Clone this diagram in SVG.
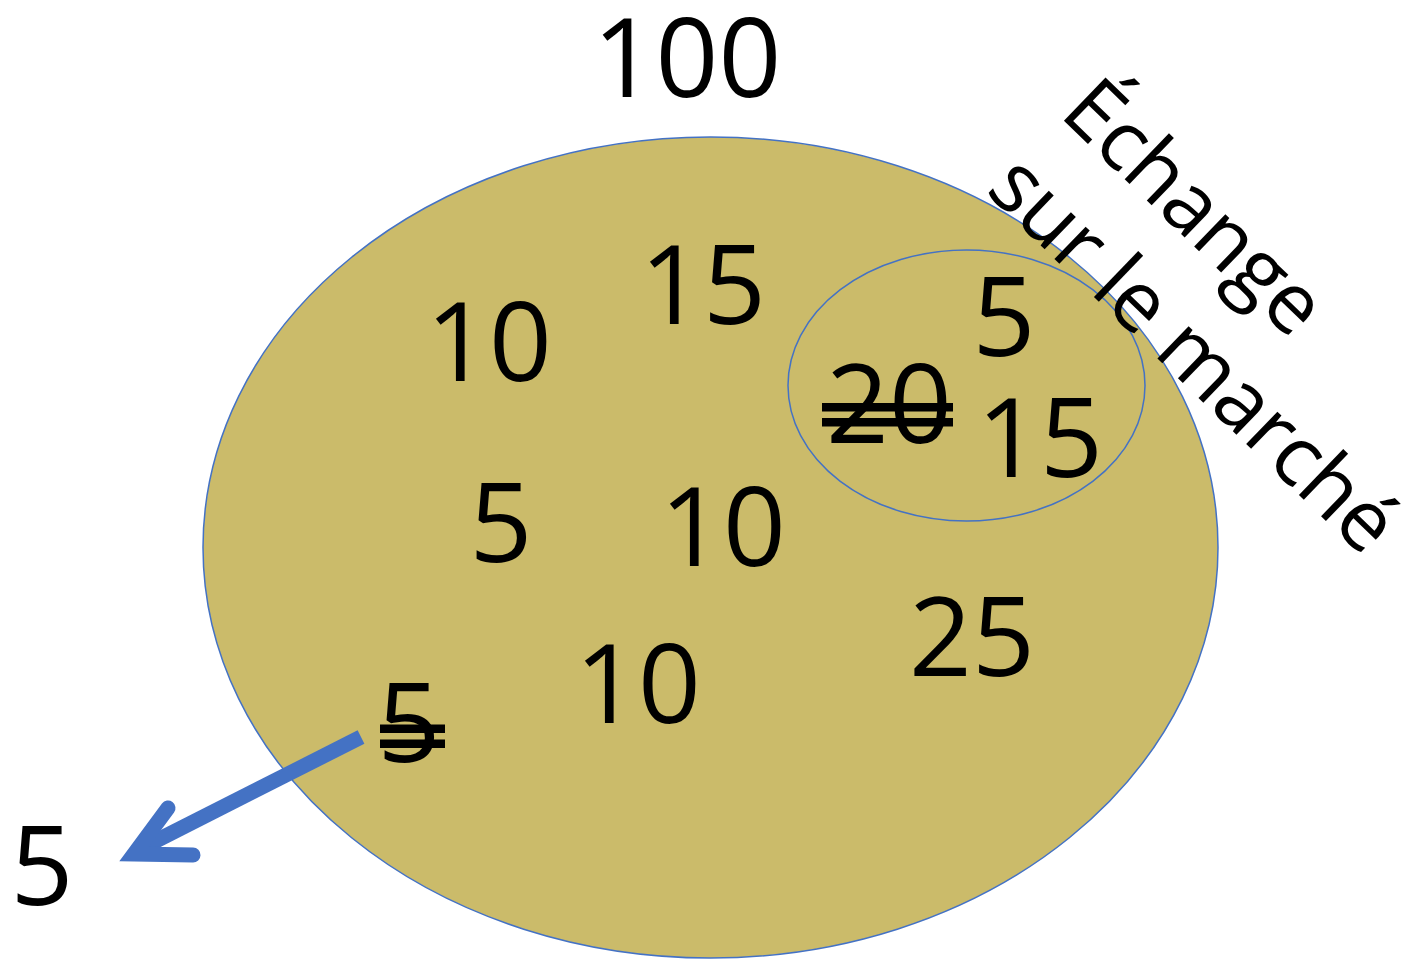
<svg xmlns="http://www.w3.org/2000/svg" width="1408" height="966" viewBox="0 0 1408 966">
<style>
.num{font-family:"Open Sans","Liberation Sans",sans-serif;font-size:110px;fill:#000;text-anchor:middle}
.lbl{font-family:"Open Sans","Liberation Sans",sans-serif;font-size:84px;fill:#000}
.ell{fill:#CBBB6A;stroke:#4472C4;stroke-width:1.5}
.strike{fill:#000}
.arrow{fill:none;stroke:#4472C4;stroke-width:15}
</style>
<rect width="1408" height="966" fill="#fff"/>
<g id="outer">
<ellipse class="ell" cx="710.5" cy="547.5" rx="507.5" ry="410.5"/>
</g>
<g id="market">
<ellipse class="ell" cx="966.5" cy="385.5" rx="178.5" ry="135.5"/>
</g>
<g id="total"><text class="num" x="687" y="97">100</text></g>
<g id="label"><g transform="translate(1058,115) rotate(44)">
<text class="lbl" x="0" y="0" textLength="325">Échange</text>
<text class="lbl" x="0" y="106" textLength="528">sur le marché</text>
</g></g>
<g id="n10a"><text class="num" x="489" y="381">10</text></g>
<g id="n15a"><text class="num" x="703" y="324">15</text></g>
<g id="n5m"><text class="num" x="1004" y="356">5</text></g>
<g id="n20"><text class="num" x="889" y="443">20</text>
<rect class="strike" x="822" y="403" width="131" height="8.5"/>
<rect class="strike" x="822" y="418" width="131" height="8.5"/>
</g>
<g id="n15b"><text class="num" x="1040" y="477">15</text></g>
<g id="n5a"><text class="num" x="501" y="562">5</text></g>
<g id="n10b"><text class="num" x="723" y="566">10</text></g>
<g id="n25"><text class="num" x="972" y="676">25</text></g>
<g id="n10c"><text class="num" x="638" y="723">10</text></g>
<g id="n5s"><text class="num" x="409" y="762">5</text>
<rect class="strike" x="380" y="724.5" width="65" height="8.5"/>
<rect class="strike" x="380" y="739.5" width="65" height="8.5"/>
</g>
<g id="n5out"><text class="num" x="42" y="905">5</text></g>
<g id="connectors">
<line class="arrow" x1="361" y1="737" x2="136" y2="851" stroke-linecap="butt"/>
<polyline class="arrow" points="168,808 134,854 193,855" stroke-linecap="round" stroke-linejoin="miter" stroke-miterlimit="10"/>
</g>
</svg>
